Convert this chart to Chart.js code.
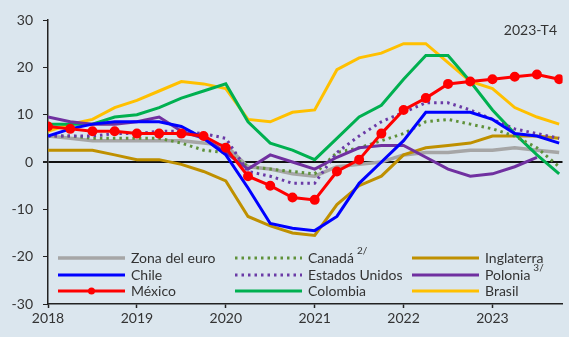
<!DOCTYPE html>
<html>
<head>
<meta charset="utf-8">
<script src="https://cdn.jsdelivr.net/npm/chart.js@4/dist/chart.umd.min.js"></script>
<style>
  html, body { margin: 0; padding: 0; background: #dbe6ee; }
  #wrap { width: 569px; height: 337px; }
</style>
</head>
<body>
<div id="wrap"><canvas id="grafica" width="569" height="337"></canvas></div>
<script>
// trimestres 2018-T1 ... 2023-T4
var quarters = ['2018-T1','2018-T2','2018-T3','2018-T4','2019-T1','2019-T2','2019-T3','2019-T4',
                '2020-T1','2020-T2','2020-T3','2020-T4','2021-T1','2021-T2','2021-T3','2021-T4',
                '2022-T1','2022-T2','2022-T3','2022-T4','2023-T1','2023-T2','2023-T3','2023-T4'];
var years = ['2018','2019','2020','2021','2022','2023'];
var yTicks = [-30, -20, -10, 0, 10, 20, 30];

var zonaEuro  = [5.5, 5, 4.5, 4.5, 4.5, 4.5, 4.5, 4, 3.5, -1, -1.5, -2.5, -3, -1, -0.5, 0, 1.5, 2, 2, 2.5, 2.5, 3, 2.5, 2];
var chile     = [5.5, 7, 8, 8.5, 8.5, 8.5, 7.5, 5, 1.5, -5.5, -13, -14, -14.5, -11.5, -4.5, 0, 4.5, 10.5, 10.5, 10.5, 9, 6, 5.5, 4];
var mexico    = [7.5, 7, 6.5, 6.5, 6, 6, 6, 5.5, 3, -3, -5, -7.5, -8, -2, 0.5, 6, 11, 13.5, 16.5, 17, 17.5, 18, 18.5, 17.5];
var canada    = [5.5, 5.5, 5, 5, 5, 5, 4, 2.5, 2, -1, -1.5, -2, -2.5, 2, 3, 4.5, 6, 8.5, 9, 8, 7, 5.5, 3, -1];
var eeuu      = [5.5, 5.5, 5.5, 6, 6, 6.5, 6.5, 6, 5, -2, -3, -4.5, -4.5, 2, 5.5, 8.5, 10.5, 12.5, 12.5, 11, 9, 7, 6, 5];
var colombia  = [8, 8, 8, 9.5, 10, 11.5, 13.5, 15, 16.5, 8.5, 4, 2.5, 0.5, 5, 9.5, 12, 17.5, 22.5, 22.5, 17, 11, 6, 1.5, -2.5];
var inglaterra= [2.5, 2.5, 2.5, 1.5, 0.5, 0.5, -0.5, -2, -4, -11.5, -13.5, -15, -15.5, -9, -5, -3, 1.5, 3, 3.5, 4, 5.5, 5.5, 5.5, 5];
var polonia   = [9.5, 8.5, 8, 8, 8.5, 9.5, 6.5, 5, 2, -1.5, 1.5, 0, -1.5, 1, 3, 3.5, 3.5, 1, -1.5, -3, -2.5, -1, 1, null];
var brasil    = [6.5, 8, 9, 11.5, 13, 15, 17, 16.5, 15.5, 9, 8.5, 10.5, 11, 19.5, 22, 23, 25, 25, 21, 17, 15.5, 11.5, 9.5, 8];

var legendOrder = ['Zona del euro','Chile','México','Canadá','Estados Unidos','Colombia','Inglaterra','Polonia','Brasil'];
var notes = { 'Canadá': '2/', 'Polonia': '3/' };

var FONT = 'Lato, "Open Sans", sans-serif';
var BG = '#dbe6ee';

function pts(arr){
      return arr.map(function(v, i){ return { x: i, y: v }; });
}

function serie(label, arr, color, extra){
      var ds = {
            label: label,
            data: pts(arr),
            borderColor: color,
            backgroundColor: color,
            borderWidth: 3,
            pointRadius: 0,
            fill: false,
            tension: 0,
            spanGaps: false
      };
      for (var k in extra) ds[k] = extra[k];
      return ds;
}

var datasets = [
      serie('México', mexico, '#ff0000', { order: 0, pointRadius: 3.5, pointHoverRadius: 3.5, pointBackgroundColor: '#ff0000', pointBorderColor: '#ff0000' }),
      serie('Chile', chile, '#0000ff', { order: 1 }),
      serie('Estados Unidos', eeuu, '#6a3aa6', { order: 2, borderDash: [2.5, 4] }),
      serie('Polonia', polonia, '#7030a0', { order: 3 }),
      serie('Canadá', canada, '#5f913a', { order: 4, borderDash: [2.5, 4] }),
      serie('Colombia', colombia, '#00b050', { order: 5 }),
      serie('Brasil', brasil, '#ffc000', { order: 6 }),
      serie('Inglaterra', inglaterra, '#bf9000', { order: 7 }),
      serie('Zona del euro', zonaEuro, '#a6a6a6', { order: 8, borderWidth: 3.5 })
];

// fondo, leyenda y etiqueta de periodo
var extras = {
      id: 'extras',
      beforeDraw: function(chart){
            var c = chart.ctx;
            c.save();
            c.fillStyle = BG;
            c.fillRect(0, 0, chart.width, chart.height);
            c.restore();
      },
      afterDraw: function(chart){
            var c = chart.ctx;
            var colX = [58, 235, 412];
            var rowY = [258, 275, 291];
            var len = 67;
            c.save();
            c.font = '14px ' + FONT;
            c.textBaseline = 'middle';
            legendOrder.forEach(function(name, k){
                  var ds = chart.data.datasets.find(function(d){ return d.label === name; });
                  var x = colX[Math.floor(k / 3)], y = rowY[k % 3];
                  c.strokeStyle = ds.borderColor;
                  c.lineWidth = ds.borderWidth;
                  c.setLineDash(ds.borderDash || []);
                  c.beginPath();
                  c.moveTo(x, y);
                  c.lineTo(x + len, y);
                  c.stroke();
                  c.setLineDash([]);
                  if (ds.pointRadius > 0){
                        c.fillStyle = ds.borderColor;
                        c.beginPath();
                        c.arc(x + len / 2, y, ds.pointRadius, 0, Math.PI * 2);
                        c.fill();
                  }
                  c.fillStyle = '#333';
                  c.font = '14px ' + FONT;
                  c.fillText(name, x + len + 6, y);
                  if (notes[name]){
                        var w = c.measureText(name).width;
                        c.font = '10px ' + FONT;
                        c.fillText(notes[name], x + len + 6 + w + 3, y - 7);
                  }
            });
            c.font = '14px ' + FONT;
            c.textAlign = 'right';
            c.fillStyle = '#333';
            c.fillText(quarters[quarters.length - 1], 557, 30);
            c.restore();
      }
};

var ctx = document.getElementById('grafica');
var chart = new Chart(ctx, {
      type: 'line',
      data: { labels: quarters, datasets: datasets },
      plugins: [extras],
      options: {
            responsive: false,
            animation: false,
            events: [],
            layout: { padding: { top: 20, right: 0, left: 0, bottom: 0 } },
            plugins: { legend: { display: false }, tooltip: { enabled: false } },
            scales: {
                  x: {
                        type: 'linear',
                        min: 0,
                        max: 23.15,
                        afterFit: function(s){ s.height = 33; },
                        border: { display: true, color: '#222', width: 1.5 },
                        grid: { drawOnChartArea: false, drawTicks: true, tickLength: 4, tickColor: '#222', tickWidth: 1.5 },
                        ticks: {
                              stepSize: 4,
                              includeBounds: false,
                              autoSkip: false,
                              maxRotation: 0,
                              padding: 2,
                              color: '#333',
                              font: { family: FONT, size: 14 },
                              callback: function(v){ return years[v / 4]; }
                        }
                  },
                  y: {
                        min: yTicks[0],
                        max: yTicks[yTicks.length - 1],
                        afterFit: function(s){ s.width = 48; },
                        afterBuildTicks: function(s){ s.ticks = yTicks.map(function(v){ return { value: v }; }); },
                        border: { display: true, color: '#222', width: 1.5 },
                        grid: {
                              drawOnChartArea: true,
                              drawTicks: true,
                              tickLength: 5,
                              tickColor: '#222',
                              color: function(c){ return c.tick && c.tick.value === 0 ? '#111' : 'rgba(0,0,0,0)'; },
                              lineWidth: function(c){ return c.tick && c.tick.value === 0 ? 2 : 1; }
                        },
                        ticks: {
                              padding: 10,
                              color: '#333',
                              font: { family: FONT, size: 14 }
                        }
                  }
            }
      }
});
</script>
</body>
</html>
